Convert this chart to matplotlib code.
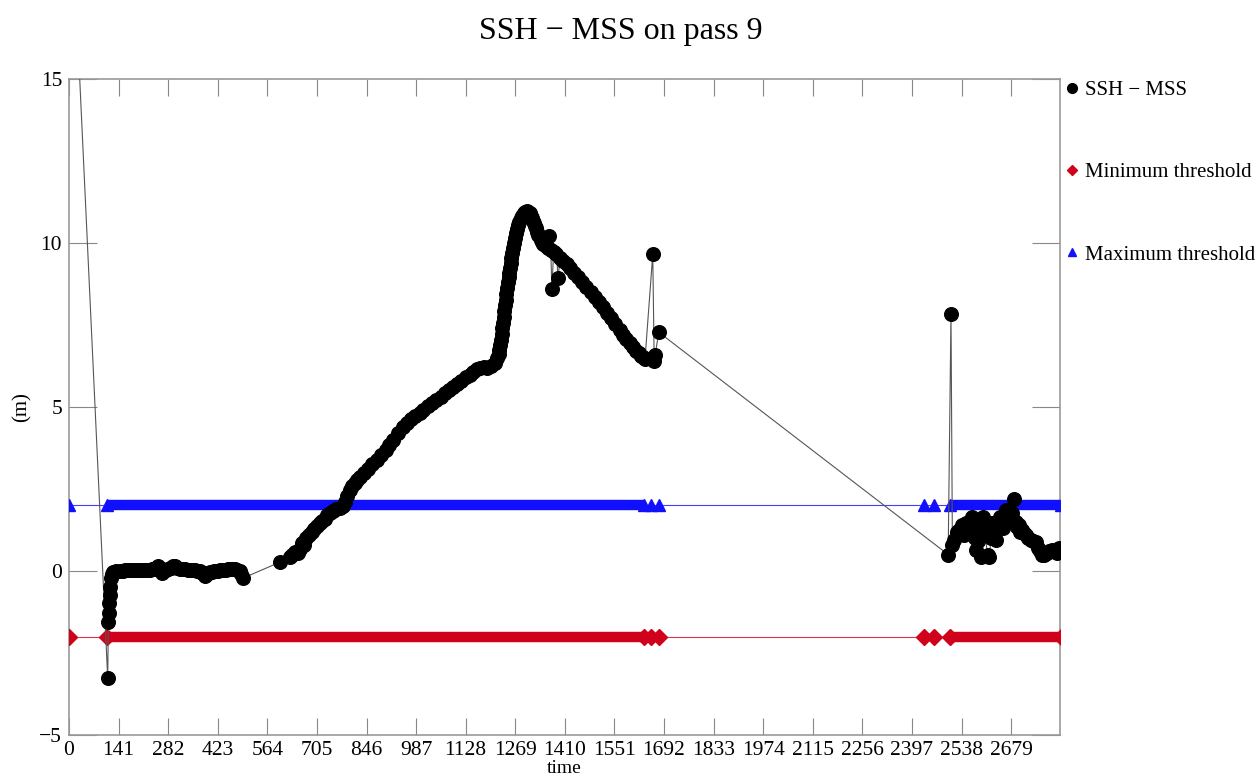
import numpy as np
import matplotlib
matplotlib.use("Agg")
import matplotlib.pyplot as plt
from matplotlib.lines import Line2D

plt.rcParams['font.family'] = ['Liberation Serif', 'DejaVu Serif']

# SSH - MSS samples (time, metres)
time_ssh = [0, 110, 112, 113, 114, 116, 117, 119, 121, 125,
            135, 145, 153, 160, 167, 173, 180, 188, 195, 202, 209, 216, 223, 230, 236,
            242, 248, 253, 258, 264, 268, 272, 277, 281, 286, 291, 296, 301, 308, 315,
            322, 330, 337, 344, 351, 358, 365, 372, 379, 386, 391, 396, 401, 406, 412,
            418, 423, 429, 435, 441, 447, 452, 457, 462, 467, 472, 479, 486, 490, 494,
            600, 628, 635, 642, 650, 656, 662, 668, 675, 682, 690, 698, 706, 713, 720,
            728, 735, 742, 750, 760, 770, 779, 785, 791, 798, 805, 812, 820, 827, 838,
            850, 862, 875, 888, 900, 910, 921, 935, 949, 960, 972, 985, 997, 1008, 1020,
            1033, 1045, 1057, 1068, 1080, 1091, 1103, 1115, 1128, 1140, 1150, 1160, 1170,
            1180, 1190, 1200, 1210, 1218, 1222, 1224, 1226, 1228, 1230, 1232, 1234, 1236,
            1238, 1240, 1242, 1244, 1246, 1248, 1250, 1252, 1254, 1256, 1258, 1261, 1263,
            1266, 1269, 1272, 1275, 1278, 1281, 1285, 1289, 1293, 1297, 1302, 1306, 1310,
            1314, 1317, 1320, 1323, 1326, 1329, 1332, 1335, 1338, 1341, 1345, 1348,
            1355, 1362, 1366, 1370, 1373, 1378, 1386, 1391, 1396, 1405, 1415,
            1424, 1435, 1447, 1459, 1471, 1483, 1495, 1507, 1518, 1530, 1542, 1554, 1566,
            1576, 1585, 1594, 1603, 1612, 1620, 1627, 1633, 1638, 1660, 1664, 1667, 1677,
            2500, 2508, 2512, 2517, 2524, 2531, 2540, 2545, 2551, 2560, 2567, 2570, 2575,
            2580, 2585, 2588, 2594, 2598, 2600, 2605, 2612, 2617, 2622, 2626, 2630, 2636,
            2640, 2646, 2655, 2660, 2665, 2670, 2675, 2682, 2687, 2692, 2696, 2700, 2705,
            2710, 2715, 2722, 2728, 2735, 2742, 2750, 2755, 2760, 2767, 2772, 2780, 2788,
            2795, 2805, 2810, 2815]
ssh = [22.0, -3.25, -1.55, -1.28, -0.98, -0.73, -0.49, -0.21, -0.1, -0.03,
       -0.01, 0.0, 0.01, 0.02, 0.02, 0.03, 0.03, 0.02, 0.02, 0.02, 0.03, 0.04, 0.04, 0.03, 0.05,
       0.06, 0.1, 0.15, 0.08, -0.06, 0.0, 0.03, 0.04, 0.05, 0.08, 0.1, 0.14, 0.16, 0.1, 0.05,
       0.05, 0.05, 0.04, 0.04, 0.03, 0.02, 0.01, 0.0, -0.06, -0.14, -0.1, -0.05, -0.04, -0.03, -0.01,
       0.0, 0.01, 0.02, 0.03, 0.04, 0.04, 0.05, 0.05, 0.06, 0.05, 0.05, 0.03, 0.0, -0.1, -0.22,
       0.27, 0.42, 0.5, 0.58, 0.55, 0.68, 0.85, 0.8, 1.0, 1.1, 1.2, 1.28, 1.38, 1.46, 1.52,
       1.6, 1.7, 1.78, 1.84, 1.9, 1.92, 1.97, 2.1, 2.3, 2.47, 2.6, 2.68, 2.78, 2.87, 2.98,
       3.1, 3.25, 3.38, 3.55, 3.7, 3.85, 4.0, 4.2, 4.4, 4.5, 4.62, 4.72, 4.82, 4.92, 5.02,
       5.12, 5.21, 5.32, 5.42, 5.52, 5.61, 5.7, 5.8, 5.9, 5.98, 6.07, 6.15, 6.2,
       6.22, 6.2, 6.24, 6.35, 6.5, 6.62, 6.75, 6.9, 7.05, 7.22, 7.4, 7.57, 7.75,
       7.92, 8.1, 8.27, 8.45, 8.62, 8.8, 8.95, 9.1, 9.25, 9.4, 9.55, 9.7, 9.85,
       10.0, 10.15, 10.3, 10.43, 10.55, 10.65, 10.75, 10.83, 10.9, 10.94, 10.97, 10.95, 10.9,
       10.82, 10.75, 10.68, 10.6, 10.52, 10.45, 10.35, 10.25, 10.17, 10.1, 10.03, 9.98,
       9.9, 9.85, 10.2, 9.8, 8.6, 9.72, 9.65, 8.92, 9.55, 9.45, 9.35,
       9.25, 9.1, 8.97, 8.82, 8.66, 8.5, 8.35, 8.2, 8.05, 7.88, 7.7, 7.52, 7.35,
       7.2, 7.07, 6.95, 6.83, 6.72, 6.64, 6.56, 6.51, 6.47, 9.66, 6.4, 6.6, 7.28,
       0.5, 7.85, 0.8, 0.95, 1.2, 1.25, 1.4, 1.1, 1.46, 1.3, 1.65, 1.4, 1.0,
       0.64, 0.9, 1.2, 0.43, 1.65, 1.3, 1.1, 0.5, 0.43, 1.0, 1.46, 1.2, 0.95,
       1.4, 1.65, 1.3, 1.5, 1.86, 1.75, 1.6, 1.77, 2.2, 1.5, 1.34, 1.4, 1.2,
       1.25, 1.15, 1.1, 1.0, 0.95, 0.9, 0.88, 0.7, 0.6, 0.49, 0.5, 0.55, 0.6,
       0.64, 0.6, 0.55, 0.7]

# threshold samples: isolated points and continuous runs
thr_points = [0, 108, 1636, 1656, 1679, 2432, 2460, 2505, 2820]
run_start = [108, 2505]
run_end = [1636, 2820]
thr_min = -2.0
thr_max = 2.0

xticks = np.arange(0, 2680, 141)
yticks = [-5, 0, 5, 10, 15]

red = '#d0021b'
blue = '#1010ff'

fig = plt.figure(figsize=(12.6, 7.78), dpi=100)
ax = fig.add_axes([69/1260, 43/778, 991/1260, 656/778])

# thresholds: thin joining line, thick band over the runs, end markers
for val, col, mk, ms in [(thr_min, red, 'D', 8), (thr_max, blue, '^', 9)]:
    ax.plot(thr_points, [val]*len(thr_points), color=col, lw=0.8, alpha=0.8, zorder=2)
    for s, e in zip(run_start, run_end):
        ax.plot([s, e], [val, val], color=col, lw=7.5, solid_capstyle='butt', zorder=3)
    ax.plot(thr_points, [val]*len(thr_points), ls='none', marker=mk, ms=ms,
            color=col, mec=col, zorder=3)

ax.plot(time_ssh, ssh, color='#555555', lw=0.8, marker='o', ms=9.8,
        mfc='black', mec='black', zorder=4)

ax.set_xlim(0, 2818)
ax.set_ylim(-5, 15)
ax.set_xticks(xticks)
ax.set_yticks(yticks)
ax.set_yticklabels(['\u22125', '0', '5', '10', '15'])
ax.tick_params(axis='x', direction='in', length=12, top=True, color='#888888',
               labelsize=15.5, pad=4)
ax.tick_params(axis='y', direction='in', length=20, right=True, color='#888888',
               labelsize=15.5, pad=5)
for sp in ax.spines.values():
    sp.set_color('#999999')
    sp.set_linewidth(1.2)

ax.set_xlabel('time', fontsize=14)
ax.xaxis.set_label_coords(0.5, -0.0505)
ax.xaxis.label.set_va('center')
ax.set_ylabel('(m)', fontsize=15)
ax.yaxis.set_label_coords(-0.038, 0.5)

fig.text(621/1260, 1 - 31/778, 'SSH \u2212 MSS on pass 9', ha='center', va='center',
         fontsize=23)

handles = [Line2D([], [], ls='none', marker='o', color='black', ms=7),
           Line2D([], [], ls='none', marker='D', color=red, ms=5),
           Line2D([], [], ls='none', marker='^', color=blue, ms=6)]
labels = ['SSH \u2212 MSS', 'Minimum threshold', 'Maximum threshold']
ax.legend(handles, labels, loc='upper left', bbox_to_anchor=(0.997, 1.01),
          frameon=False, fontsize=15, handlelength=0.6, handletextpad=0.35,
          labelspacing=3.0, borderaxespad=0.2, borderpad=0.2)

fig.savefig('out.png', dpi=100)
